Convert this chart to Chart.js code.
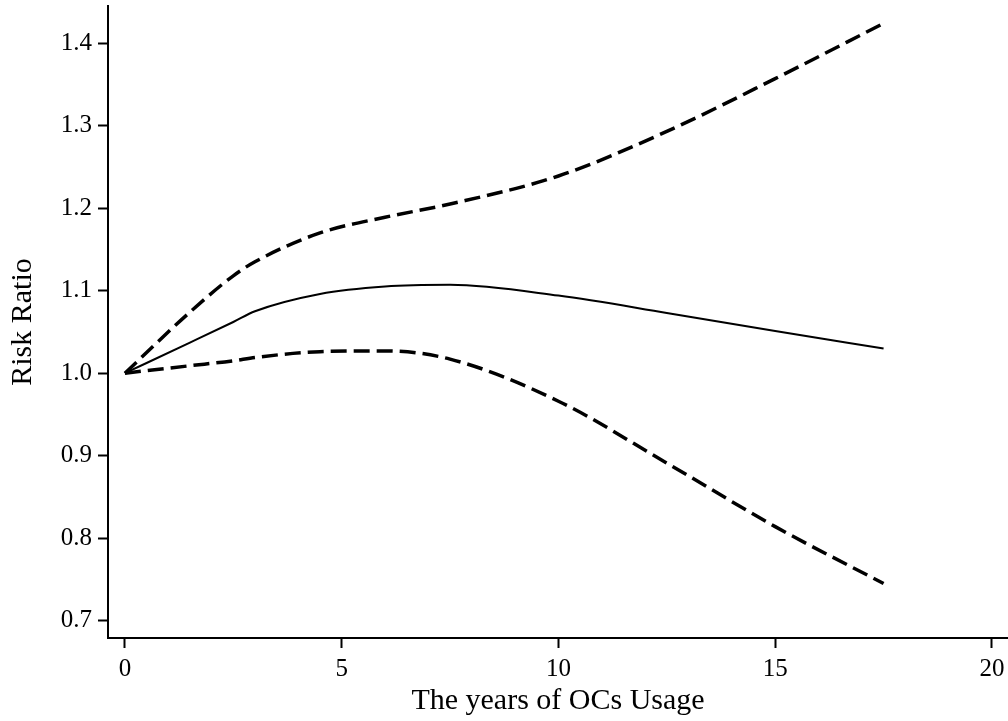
<!DOCTYPE html>
<html>
<head>
<meta charset="utf-8">
<script src="https://cdn.jsdelivr.net/npm/chart.js@4/dist/chart.umd.min.js"></script>
<style>
  html, body { margin: 0; padding: 0; background: #fff; }
  #wrap { width: 1008px; height: 721px; position: relative; }
</style>
</head>
<body>
<div id="wrap"><canvas id="c" width="1008" height="721"></canvas></div>
<script>
const years = [0, 1.5, 2.5, 3, 4.5, 6, 7.5, 10, 12.5, 15, 17.5];
const riskRatio = [1.0, 1.037, 1.062, 1.075, 1.096, 1.105, 1.107, 1.094, 1.073, 1.051, 1.030];
const upperCI = [1.0, 1.074, 1.118, 1.135, 1.170, 1.189, 1.205, 1.239, 1.293, 1.357, 1.424];
const lowerCI = [1.0, 1.009, 1.015, 1.019, 1.026, 1.027, 1.017, 0.966, 0.891, 0.814, 0.745];
const xTicks = [0, 5, 10, 15, 20];
const yTicks = [0.7, 0.8, 0.9, 1.0, 1.1, 1.2, 1.3, 1.4];

const toPts = (ys) => years.map((x, i) => ({x: x, y: ys[i]}));
const serif = "'Liberation Serif', 'Times New Roman', serif";

new Chart(document.getElementById('c'), {
  type: 'line',
  data: {
    datasets: [
      { label: 'Risk Ratio', data: toPts(riskRatio), borderColor: '#000', borderWidth: 2, pointRadius: 0, fill: false, cubicInterpolationMode: 'monotone' },
      { label: 'Upper', data: toPts(upperCI), borderColor: '#000', borderWidth: 3.5, borderDash: [16, 7], pointRadius: 0, fill: false, cubicInterpolationMode: 'monotone' },
      { label: 'Lower', data: toPts(lowerCI), borderColor: '#000', borderWidth: 3.5, borderDash: [16, 7], pointRadius: 0, fill: false, cubicInterpolationMode: 'monotone' }
    ]
  },
  options: {
    responsive: false,
    animation: false,
    layout: { padding: { top: 6, right: 0, bottom: 0, left: 0 } },
    plugins: { legend: { display: false }, tooltip: { enabled: false } },
    scales: {
      x: {
        type: 'linear',
        min: -0.39, max: 20.37,
        afterFit: (s) => { s.height = 83; s.paddingLeft = 0; s.paddingRight = 0; },
        afterBuildTicks: (s) => { s.ticks = xTicks.map(v => ({value: v})); },
        grid: { display: true, drawOnChartArea: false, drawTicks: true, tickLength: 10, tickWidth: 2, tickColor: '#000', color: '#000' },
        border: { display: true, color: '#000', width: 2 },
        ticks: { color: '#000', padding: 6, maxRotation: 0, font: { family: serif, size: 25 }, callback: (v) => String(v) },
        title: { display: true, text: 'The years of OCs Usage', color: '#000', font: { family: serif, size: 30 }, padding: { top: 0, bottom: 2 } }
      },
      y: {
        type: 'linear',
        min: 0.679, max: 1.445,
        afterFit: (s) => { s.width = 108; s.paddingTop = 0; s.paddingBottom = 0; },
        afterBuildTicks: (s) => { s.ticks = yTicks.map(v => ({value: v})); },
        grid: { display: true, drawOnChartArea: false, drawTicks: true, tickLength: 10, tickWidth: 2, tickColor: '#000', color: '#000' },
        border: { display: true, color: '#000', width: 2 },
        ticks: { color: '#000', padding: 6, font: { family: serif, size: 25 }, callback: (v) => Number(v).toFixed(1) },
        title: { display: true, text: 'Risk Ratio', color: '#000', font: { family: serif, size: 30 }, padding: { top: 5, bottom: 0 } }
      }
    }
  }
});
</script>
</body>
</html>
